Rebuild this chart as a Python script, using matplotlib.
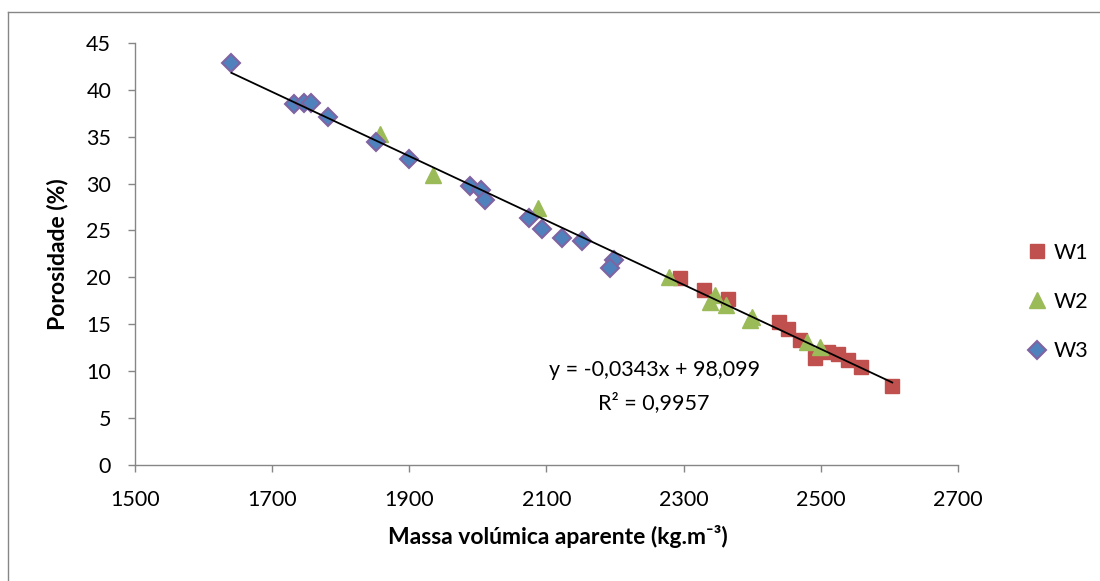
import numpy as np
import matplotlib
matplotlib.use("Agg")
import matplotlib.pyplot as plt
from matplotlib.lines import Line2D

plt.rcParams['font.family'] = ['Lato', 'DejaVu Sans']

# W1 series
w1_x = [2295, 2330, 2364, 2439, 2452, 2470, 2492, 2511, 2525, 2539, 2558, 2604]
w1_y = [19.9, 18.6, 17.7, 15.2, 14.5, 13.3, 11.4, 12.0, 11.8, 11.2, 10.4, 8.4]

# W2 series
w2_x = [1858, 1934, 2087, 2279, 2346, 2339, 2361, 2400, 2397, 2480, 2499]
w2_y = [35.3, 30.9, 27.4, 20.0, 18.1, 17.4, 17.1, 15.8, 15.5, 13.1, 12.6]

# W3 series
w3_x = [1641, 1732, 1746, 1757, 1781, 1852, 1899, 1988, 2005, 2011,
        2074, 2094, 2122, 2152, 2198, 2193]
w3_y = [42.9, 38.5, 38.6, 38.6, 37.1, 34.4, 32.6, 29.7, 29.3, 28.3,
        26.3, 25.2, 24.2, 23.9, 21.9, 21.0]

# linear trend (as printed on the chart)
slope, intercept = -0.0343, 98.099
eq_text = "y = -0,0343x + 98,099"
r2_text = "R² = 0,9957"

x_ticks = [1500, 1700, 1900, 2100, 2300, 2500, 2700]
y_ticks = [0, 5, 10, 15, 20, 25, 30, 35, 40, 45]

fig = plt.figure(figsize=(11, 5.81), dpi=100)
ax = fig.add_axes([0.1225, 0.2, 0.7485, 0.726])

grey = '#868686'
fs = 15.5

ax.plot(w1_x, w1_y, linestyle='none', marker='s', markersize=10.5,
        color='#C0504D', markeredgecolor='#C0504D', label='W1', zorder=3)
ax.plot(w2_x, w2_y, linestyle='none', marker='^', markersize=11,
        color='#9BBB59', markeredgecolor='#9BBB59', label='W2', zorder=3)
ax.plot(w3_x, w3_y, linestyle='none', marker='D', markersize=8.8,
        color='#4F81BD', markeredgecolor='#8064A2', markeredgewidth=1.5,
        label='W3', zorder=3)

all_x = np.array(w1_x + w2_x + w3_x)
tx = np.array([all_x.min(), all_x.max()])
ax.plot(tx, slope * tx + intercept, color='black', linewidth=1.3, zorder=4)

ax.text(2257, 10.1, eq_text, ha='center', va='center', fontsize=fs)
ax.text(2257, 6.6, r2_text, ha='center', va='center', fontsize=fs)

ax.set_xlim(1500, 2700)
ax.set_ylim(0, 45)
ax.set_xticks(x_ticks)
ax.set_yticks(y_ticks)
ax.tick_params(direction='out', length=5, width=1, color=grey,
               labelsize=fs, pad=12)
ax.tick_params(axis='x', pad=13)
for s in ['top', 'right']:
    ax.spines[s].set_visible(False)
for s in ['left', 'bottom']:
    ax.spines[s].set_color(grey)
    ax.spines[s].set_linewidth(1)

fig.text(558 / 1100, 1 - 537 / 581, 'Massa volúmica aparente (kg.m⁻³)',
         ha='center', va='center', fontsize=16.5, fontweight='bold')
fig.text(57 / 1100, 1 - 254 / 581, 'Porosidade (%)', rotation=90,
         ha='center', va='center', fontsize=16.5, fontweight='bold')

ax.legend(loc='center left', bbox_to_anchor=(1028 / 1100, 1 - 302 / 581),
          bbox_transform=fig.transFigure, frameon=False, fontsize=fs,
          handlelength=0.8, handletextpad=0.4, labelspacing=1.35,
          borderaxespad=0, borderpad=0)

# outer chart frame (left and top edges visible)
fig.add_artist(Line2D([8 / 1100, 8 / 1100], [0, 1 - 12 / 581],
                      transform=fig.transFigure, color=grey, linewidth=1))
fig.add_artist(Line2D([8 / 1100, 1], [1 - 12 / 581, 1 - 12 / 581],
                      transform=fig.transFigure, color=grey, linewidth=1))

fig.savefig('out.png', dpi=100, facecolor='white')
